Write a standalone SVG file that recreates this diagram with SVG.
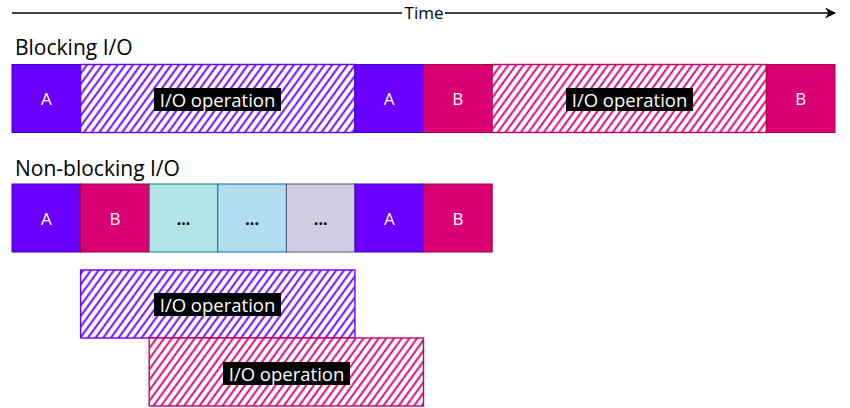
<svg xmlns="http://www.w3.org/2000/svg" width="850" height="408" viewBox="0 0 850 408">
<defs>
<style>
.lbl{font-family:"Open Sans","Noto Sans","Liberation Sans",sans-serif;}
.title{font-size:21px;fill:#000;}
.cell{font-size:17px;fill:#fff;text-anchor:middle;dominant-baseline:central;}
.dots{font-size:16px;fill:#000;font-weight:bold;text-anchor:middle;dominant-baseline:central;}
.io{font-size:18.5px;fill:#fff;text-anchor:middle;dominant-baseline:central;}
.pA{fill:#6a00ff;stroke:#3700cc;stroke-width:1;}
.pB{fill:#d80073;stroke:#a50040;stroke-width:1;}
.hA{fill:url(#hatchA);stroke:#6a00ff;stroke-width:1.4;}
.hB{fill:url(#hatchB);stroke:#c8006b;stroke-width:1.4;}
</style>
<pattern id="hatchA" patternUnits="userSpaceOnUse" width="6.2" height="6" patternTransform="rotate(36)">
<rect width="6.2" height="6" fill="#fff"/>
<line x1="3.1" y1="-1" x2="3.1" y2="7" stroke="#6a00ff" stroke-width="1.9"/>
</pattern>
<pattern id="hatchB" patternUnits="userSpaceOnUse" width="6.2" height="6" patternTransform="rotate(36)">
<rect width="6.2" height="6" fill="#fff"/>
<line x1="3.1" y1="-1" x2="3.1" y2="7" stroke="#d80073" stroke-width="1.9"/>
</pattern>
<marker id="arrow" viewBox="0 0 10 10" refX="9" refY="5" markerWidth="11" markerHeight="11" markerUnits="userSpaceOnUse" orient="auto">
<path d="M0,0 L10,5 L0,10 L3,5 Z" fill="#000"/>
</marker>
</defs>
<rect width="850" height="408" fill="#fff"/>

<g id="connectors">
<line x1="12" y1="13" x2="402" y2="13" stroke="#000" stroke-width="1.5"/>
<line x1="445" y1="13" x2="835" y2="13" stroke="#000" stroke-width="1.5" marker-end="url(#arrow)"/>
<text class="lbl" x="424" y="19" font-size="17" text-anchor="middle">Time</text>
</g>

<g id="title-blocking"><text class="lbl title" x="15" y="55">Blocking I/O</text></g>
<g id="title-nonblocking"><text class="lbl title" x="15" y="176">Non-blocking I/O</text></g>

<g id="b-A1"><rect class="pA" x="12" y="64.5" width="68.6" height="68"/><text class="lbl cell" x="46.3" y="98.5">A</text></g>
<g id="b-IO1"><rect class="hA" x="80.6" y="64.5" width="274.3" height="68"/>
<rect x="154" y="88" width="127" height="23" fill="#000"/><text class="lbl io" x="217.5" y="99.5">I/O operation</text></g>
<g id="b-A2"><rect class="pA" x="354.9" y="64.5" width="68.6" height="68"/><text class="lbl cell" x="389.2" y="98.5">A</text></g>
<g id="b-B1"><rect class="pB" x="423.5" y="64.5" width="68.6" height="68"/><text class="lbl cell" x="457.8" y="98.5">B</text></g>
<g id="b-IO2"><rect class="hB" x="492.1" y="64.5" width="274.3" height="68"/>
<rect x="566" y="88" width="127" height="23" fill="#000"/><text class="lbl io" x="629.5" y="99.5">I/O operation</text></g>
<g id="b-B2"><rect class="pB" x="766.4" y="64.5" width="68.6" height="68"/><text class="lbl cell" x="800.7" y="98.5">B</text></g>

<g id="n-A1"><rect class="pA" x="12" y="184" width="68.6" height="68"/><text class="lbl cell" x="46.3" y="218">A</text></g>
<g id="n-B1"><rect class="pB" x="80.6" y="184" width="68.6" height="68"/><text class="lbl cell" x="114.9" y="218">B</text></g>
<g id="n-d1"><rect x="149.2" y="184" width="68.6" height="68" fill="#b0e3e6" stroke="#0e8088"/><text class="lbl dots" x="183.5" y="219">...</text></g>
<g id="n-d2"><rect x="217.8" y="184" width="68.6" height="68" fill="#b1ddf0" stroke="#10739e"/><text class="lbl dots" x="252.1" y="219">...</text></g>
<g id="n-d3"><rect x="286.4" y="184" width="68.6" height="68" fill="#d0cee2" stroke="#56517e"/><text class="lbl dots" x="320.7" y="219">...</text></g>
<g id="n-A2"><rect class="pA" x="355" y="184" width="68.6" height="68"/><text class="lbl cell" x="389.3" y="218">A</text></g>
<g id="n-B2"><rect class="pB" x="423.6" y="184" width="68.6" height="68"/><text class="lbl cell" x="457.9" y="218">B</text></g>

<g id="n-IOA"><rect class="hA" x="80.6" y="270" width="274.3" height="68"/>
<rect x="154" y="293" width="127" height="23" fill="#000"/><text class="lbl io" x="217.5" y="304.5">I/O operation</text></g>
<g id="n-IOB"><rect class="hB" x="149.2" y="338" width="274.3" height="68"/>
<rect x="223" y="362" width="127" height="23" fill="#000"/><text class="lbl io" x="286.5" y="373.5">I/O operation</text></g>
</svg>
